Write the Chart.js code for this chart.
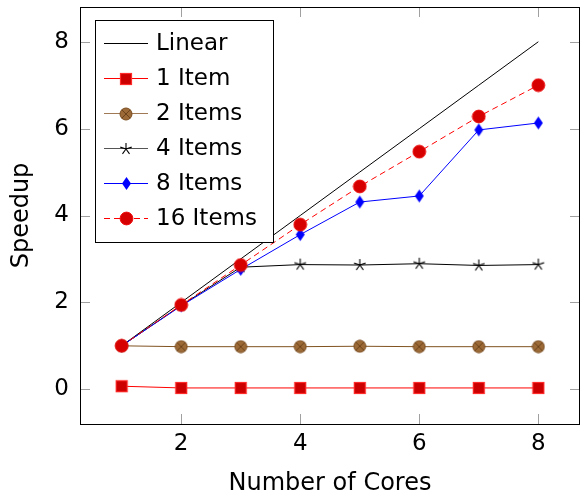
<!DOCTYPE html>
<html>
<head>
<meta charset="utf-8">
<script src="https://cdn.jsdelivr.net/npm/chart.js@4"></script>
<style>
  body { margin: 0; background: #fff; }
  #wrap { width: 581px; height: 496px; }
</style>
</head>
<body>
<div id="wrap"><canvas id="speedup" width="581" height="496"></canvas></div>
<script>
// data
const cores = [1, 2, 3, 4, 5, 6, 7, 8];
const linear = [1, 2, 3, 4, 5, 6, 7, 8];
const item1 = [0.07, 0.03, 0.03, 0.03, 0.03, 0.03, 0.03, 0.03];
const items2 = [1, 0.98, 0.98, 0.98, 0.99, 0.98, 0.98, 0.98];
const items4 = [1, 1.93, 2.81, 2.87, 2.86, 2.89, 2.85, 2.87];
const items8 = [1, 1.92, 2.76, 3.56, 4.31, 4.45, 5.97, 6.13];
const items16 = [1, 1.94, 2.86, 3.79, 4.67, 5.47, 6.28, 7.0];
const xTicks = [2, 4, 6, 8];
const yTicks = [0, 2, 4, 6, 8];

const FONT = 'DejaVu Sans';

function toPoints(vals) {
    return cores.map((c, i) => ({ x: c, y: vals[i] }));
}

// little canvases for the pgfplots-like markers
function makeMarker(w, h, draw) {
    const c = document.createElement('canvas');
    c.width = w;
    c.height = h;
    draw(c.getContext('2d'), w, h);
    return c;
}

const squareMark = makeMarker(14, 14, (g) => {
    g.fillStyle = '#cc0000';
    g.fillRect(1, 1, 12, 12);
    g.strokeStyle = '#ff2a2a';
    g.lineWidth = 1.2;
    g.strokeRect(1.5, 1.5, 11, 11);
});

const oplusMark = makeMarker(14, 14, (g) => {
    g.beginPath();
    g.arc(7, 7, 6, 0, Math.PI * 2);
    g.fillStyle = '#9c6a37';
    g.fill();
    g.strokeStyle = '#7a4c1f';
    g.lineWidth = 1;
    g.stroke();
    const d = 6 * Math.SQRT1_2;
    g.beginPath();
    g.moveTo(7 - d, 7 - d); g.lineTo(7 + d, 7 + d);
    g.moveTo(7 + d, 7 - d); g.lineTo(7 - d, 7 + d);
    g.strokeStyle = '#6b4219';
    g.stroke();
});

const starMark = makeMarker(14, 14, (g) => {
    g.strokeStyle = '#000';
    g.lineWidth = 1.1;
    g.beginPath();
    for (let k = 0; k < 5; k++) {
        const a = -Math.PI / 2 + k * 2 * Math.PI / 5;
        g.moveTo(7, 7);
        g.lineTo(7 + 6 * Math.cos(a), 7 + 6 * Math.sin(a));
    }
    g.stroke();
});

const diamondMark = makeMarker(11, 15, (g) => {
    g.fillStyle = '#0000ff';
    g.beginPath();
    g.moveTo(5.5, 1); g.lineTo(10, 7.5); g.lineTo(5.5, 14); g.lineTo(1, 7.5);
    g.closePath();
    g.fill();
});

const dotMark = makeMarker(15, 15, (g) => {
    g.beginPath();
    g.arc(7.5, 7.5, 6.4, 0, Math.PI * 2);
    g.fillStyle = '#d60000';
    g.fill();
    g.strokeStyle = '#ee1010';
    g.lineWidth = 1;
    g.stroke();
});

// inward tick marks + frame like pgfplots
const frameTicks = {
    id: 'frameTicks',
    beforeDatasetsDraw(chart) {
        const ctx = chart.ctx;
        const a = chart.chartArea;
        const xs = chart.scales.x, ys = chart.scales.y;
        ctx.save();
        ctx.strokeStyle = '#a0a0a0';
        ctx.lineWidth = 1;
        ctx.beginPath();
        xTicks.forEach(v => {
            const px = Math.round(xs.getPixelForValue(v)) + 0.5;
            ctx.moveTo(px, a.bottom); ctx.lineTo(px, a.bottom - 10);
            ctx.moveTo(px, a.top); ctx.lineTo(px, a.top + 10);
        });
        yTicks.forEach(v => {
            const py = Math.round(ys.getPixelForValue(v)) + 0.5;
            ctx.moveTo(a.left, py); ctx.lineTo(a.left + 10, py);
            ctx.moveTo(a.right, py); ctx.lineTo(a.right - 10, py);
        });
        ctx.stroke();
        ctx.strokeStyle = '#000';
        ctx.strokeRect(Math.round(a.left) + 0.5, Math.round(a.top) + 0.5,
            Math.round(a.right - a.left) - 1, Math.round(a.bottom - a.top));
        ctx.restore();
    }
};

// legend box in the upper left corner of the plot
const boxLegend = {
    id: 'boxLegend',
    afterDraw(chart) {
        const ctx = chart.ctx;
        const a = chart.chartArea;
        const x0 = a.left + 15, y0 = a.top + 13, w = 178, h = 222;
        ctx.save();
        ctx.fillStyle = '#fff';
        ctx.fillRect(x0, y0, w, h);
        ctx.strokeStyle = '#000';
        ctx.lineWidth = 1;
        ctx.strokeRect(Math.round(x0) + 0.5, Math.round(y0) + 0.5, w, h);
        ctx.font = '23px "' + FONT + '"';
        ctx.textBaseline = 'middle';
        ctx.fillStyle = '#000';
        chart.data.datasets.forEach((ds, i) => {
            const cy = Math.round(y0 + 23 + i * 35) + 0.5;
            ctx.strokeStyle = ds.legendLine || ds.borderColor;
            ctx.lineWidth = 1;
            ctx.setLineDash(ds.borderDash || []);
            ctx.beginPath();
            ctx.moveTo(x0 + 9, cy);
            ctx.lineTo(x0 + 53, cy);
            ctx.stroke();
            ctx.setLineDash([]);
            const m = ds.pointStyle;
            if (m && typeof m === 'object') {
                ctx.drawImage(m, Math.round(x0 + 31 - m.width / 2), Math.round(cy - m.height / 2));
            }
            ctx.fillText(ds.label, x0 + 61, cy + 1);
        });
        ctx.restore();
    }
};

new Chart(document.getElementById('speedup'), {
    type: 'line',
    data: {
        datasets: [
            { label: 'Linear', data: toPoints(linear), borderColor: '#000', borderWidth: 1, pointRadius: 0, order: 6 },
            { label: '1 Item', data: toPoints(item1), borderColor: '#ff0000', borderWidth: 1, pointStyle: squareMark, pointRadius: 7, order: 5 },
            { label: '2 Items', data: toPoints(items2), borderColor: '#7f5220', legendLine: '#a07a55', borderWidth: 1, pointStyle: oplusMark, pointRadius: 7, order: 4 },
            { label: '4 Items', data: toPoints(items4), borderColor: '#000', legendLine: '#555', borderWidth: 1, pointStyle: starMark, pointRadius: 7, order: 3 },
            { label: '8 Items', data: toPoints(items8), borderColor: '#0000ff', borderWidth: 1, pointStyle: diamondMark, pointRadius: 7, order: 2 },
            { label: '16 Items', data: toPoints(items16), borderColor: '#ff0000', borderWidth: 1, borderDash: [6, 4], pointStyle: dotMark, pointRadius: 7, order: 1 }
        ]
    },
    options: {
        responsive: false,
        animation: false,
        layout: { autoPadding: false, padding: { top: 7, right: 1, left: 0, bottom: 0 } },
        elements: { line: { tension: 0 } },
        plugins: {
            legend: { display: false },
            tooltip: { enabled: false }
        },
        scales: {
            x: {
                type: 'linear',
                min: 0.3,
                max: 8.7,
                afterBuildTicks: (s) => { s.ticks = xTicks.map(v => ({ value: v })); },
                afterFit: (s) => {
                    s.height = 72;
                    s.paddingLeft = 0;
                    s.paddingRight = 0;
                },
                grid: { display: false, drawTicks: false },
                border: { display: false },
                ticks: { color: '#000', padding: 6, font: { family: FONT, size: 23 } },
                title: {
                    display: true,
                    text: 'Number of Cores',
                    color: '#000',
                    font: { family: FONT, size: 24, lineHeight: 1 },
                    padding: { top: 0, bottom: 0 }
                }
            },
            y: {
                min: -0.8,
                max: 8.8,
                afterBuildTicks: (s) => { s.ticks = yTicks.map(v => ({ value: v })); },
                afterFit: (s) => {
                    s.width = 80;
                    s.paddingTop = 0;
                    s.paddingBottom = 0;
                },
                grid: { display: false, drawTicks: false },
                border: { display: false },
                ticks: { color: '#000', padding: 11, font: { family: FONT, size: 23 } },
                title: {
                    display: true,
                    text: 'Speedup',
                    color: '#000',
                    font: { family: FONT, size: 24, lineHeight: 1 },
                    padding: { top: 10, bottom: 0 }
                }
            }
        }
    },
    plugins: [frameTicks, boxLegend]
});
</script>
</body>
</html>
